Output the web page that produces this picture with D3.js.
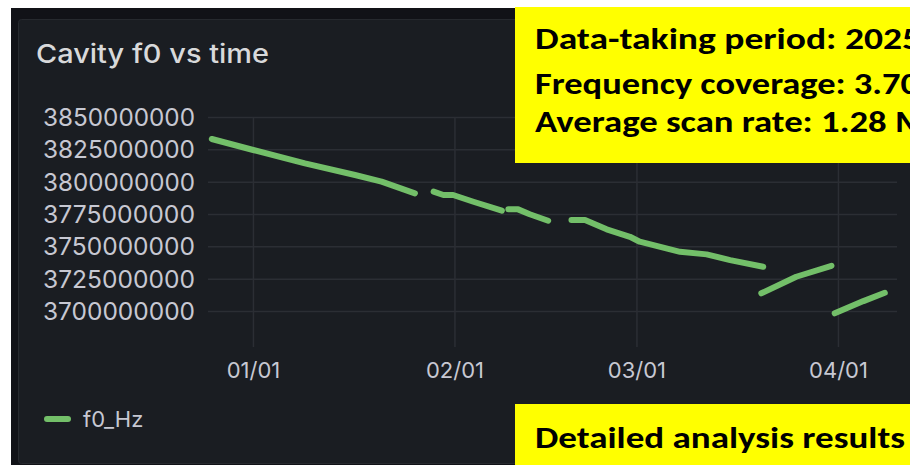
<!DOCTYPE html>
<html>
<head>
<meta charset="utf-8">
<script src="https://cdn.jsdelivr.net/npm/d3@7"></script>
<style>
  html, body { margin: 0; padding: 0; background: #ffffff; }
  svg { display: block; }
</style>
</head>
<body>
<svg id="chart" width="910" height="465"></svg>
<script>
// ---- Data ----
const title = "Cavity f0 vs time";
const seriesName = "f0_Hz";
// null entries mark gaps between data-taking runs
const dates = [
  "2024-12-25T16:00", "2025-01-01T01:00", "2025-01-09T00:00", "2025-01-16T17:00", "2025-01-20T19:00", "2025-01-25T22:00",
  null,
  "2025-01-28T19:00", "2025-01-30T07:00", "2025-01-31T19:00", "2025-02-03T22:00", "2025-02-08T07:00",
  null,
  "2025-02-09T07:00", "2025-02-10T19:00", "2025-02-12T14:00", "2025-02-15T10:00",
  null,
  "2025-02-19T00:00", "2025-02-21T02:00", "2025-02-24T10:00", "2025-02-28T00:00", "2025-03-01T12:00",
  "2025-03-07T17:00", "2025-03-11T19:00", "2025-03-15T10:00", "2025-03-20T12:00",
  null,
  "2025-03-20T05:00", "2025-03-25T14:00", "2025-03-31T00:00",
  null,
  "2025-03-31T12:00", "2025-04-04T22:00", "2025-04-08T05:00"
];
const f0Hz = [
  3833.0e6, 3824.5e6, 3814.2e6, 3805.2e6, 3800.0e6, 3791.0e6,
  null,
  3792.3e6, 3789.7e6, 3789.7e6, 3784.5e6, 3777.6e6,
  null,
  3778.6e6, 3778.6e6, 3774.8e6, 3769.8e6,
  null,
  3770.4e6, 3770.4e6, 3763.2e6, 3757.4e6, 3753.6e6,
  3745.8e6, 3743.8e6, 3739.4e6, 3734.2e6,
  null,
  3713.7e6, 3726.5e6, 3735.0e6,
  null,
  3698.2e6, 3707.7e6, 3714.1e6
];
const xDomain = ["2024-12-25T02:00", "2025-04-10T02:00"];
const xTickDates = ["2025-01-01T00:00", "2025-02-01T00:00", "2025-03-01T00:00", "2025-04-01T00:00"];
const yDomain = [3672.2e6, 3850e6];
const yTicks = [3700e6, 3725e6, 3750e6, 3775e6, 3800e6, 3825e6, 3850e6];
const infoLines = ["Data-taking period: 2025", "Frequency coverage: 3.70", "Average scan rate: 1.28 M"];
const footerText = "Detailed analysis results";

// ---- Drawing ----
const parse = d3.utcParse("%Y-%m-%dT%H:%M");
const points = dates.map((d, i) => ({ t: d ? parse(d) : null, v: f0Hz[i] }));

const svg = d3.select("#chart");
const W = 910, H = 465;
const plot = { left: 208, right: 897, top: 117, bottom: 347 };

const green = "#73bf69";
const textCol = "#c7c8d2";
const gridCol = "#2b2e34";

// outer dark + panel
svg.append("rect").attr("x", 11).attr("y", 8).attr("width", W - 11).attr("height", H - 8).attr("fill", "#111217");
svg.append("rect").attr("x", 18.5).attr("y", 19.5).attr("width", W).attr("height", H - 21)
  .attr("rx", 3).attr("fill", "#1a1d22").attr("stroke", "#26292e").attr("stroke-width", 1);

// title
svg.append("text").attr("x", 36).attr("y", 63)
  .attr("font-family", "Inter, 'Noto Sans', sans-serif").attr("font-weight", 500).attr("font-size", 26)
  .attr("fill", "#d8d9da").attr("textLength", 233).attr("lengthAdjust", "spacingAndGlyphs")
  .text(title);

const x = d3.scaleUtc().domain(xDomain.map(parse)).range([plot.left, plot.right]);
const y = d3.scaleLinear().domain(yDomain).range([plot.bottom, plot.top]);

// horizontal grid
const gy = svg.append("g").attr("transform", `translate(${plot.left},0)`)
  .call(d3.axisLeft(y).tickValues(yTicks).tickSize(-(plot.right - plot.left)).tickFormat(""));
gy.select(".domain").remove();
gy.selectAll("line").attr("stroke", gridCol).attr("stroke-width", 1.5);

// vertical grid
const gx = svg.append("g").attr("transform", `translate(0,${plot.bottom})`)
  .call(d3.axisBottom(x).tickValues(xTickDates.map(parse)).tickSize(-(plot.bottom - plot.top)).tickFormat(""));
gx.select(".domain").remove();
gx.selectAll("line").attr("stroke", gridCol).attr("stroke-width", 1.5);

// y labels
const ay = svg.append("g").attr("transform", `translate(${plot.left},0)`)
  .call(d3.axisLeft(y).tickValues(yTicks).tickSize(0).tickPadding(13).tickFormat(d3.format("d")));
ay.select(".domain").remove();
ay.selectAll("text").attr("fill", textCol).attr("font-family", "Inter, 'Noto Sans', sans-serif")
  .attr("font-size", 24).attr("dy", "0.36em")
  .attr("textLength", 152).attr("lengthAdjust", "spacingAndGlyphs");

// x labels
const ax = svg.append("g").attr("transform", `translate(0,${plot.bottom})`)
  .call(d3.axisBottom(x).tickValues(xTickDates.map(parse)).tickSize(0).tickFormat(d3.utcFormat("%m/%d")));
ax.select(".domain").remove();
ax.selectAll("text").attr("fill", textCol).attr("font-family", "Inter, 'Noto Sans', sans-serif")
  .attr("font-size", 22).attr("y", 23).attr("dy", "0.36em");

// series line
const line = d3.line()
  .defined(d => d.v != null && d.t != null)
  .x(d => x(d.t))
  .y(d => y(d.v));
svg.append("path").datum(points)
  .attr("fill", "none").attr("stroke", green).attr("stroke-width", 6)
  .attr("stroke-linecap", "round").attr("stroke-linejoin", "round")
  .attr("d", line);

// legend
const lg = svg.append("g").attr("transform", "translate(0,419)");
lg.append("line").attr("x1", 47).attr("x2", 68).attr("y1", 0).attr("y2", 0)
  .attr("stroke", green).attr("stroke-width", 6).attr("stroke-linecap", "round");
lg.append("text").attr("x", 83).attr("y", 0).attr("dy", "0.36em")
  .attr("font-family", "Inter, 'Noto Sans', sans-serif").attr("font-size", 22).attr("fill", textCol)
  .text(seriesName);

// yellow annotation boxes
const boxFont = "Carlito, Calibri, 'Liberation Sans Narrow', 'Noto Sans', sans-serif";
svg.append("rect").attr("x", 515).attr("y", 7).attr("width", W - 515).attr("height", 156).attr("fill", "#ffff00");
const infoBase = [49, 94, 132];
const infoLen = [386, 384, 392];
infoLines.forEach((t, i) => {
  svg.append("text").attr("x", 535).attr("y", infoBase[i])
    .attr("font-family", boxFont).attr("font-weight", 700).attr("font-size", 30)
    .attr("fill", "#000").attr("textLength", infoLen[i]).attr("lengthAdjust", "spacingAndGlyphs")
    .text(t);
});
svg.append("rect").attr("x", 515).attr("y", 404).attr("width", W - 515).attr("height", H - 404).attr("fill", "#ffff00");
svg.append("text").attr("x", 535).attr("y", 448)
  .attr("font-family", boxFont).attr("font-weight", 700).attr("font-size", 31)
  .attr("fill", "#000").attr("textLength", 370).attr("lengthAdjust", "spacingAndGlyphs")
  .text(footerText);
</script>
</body>
</html>
